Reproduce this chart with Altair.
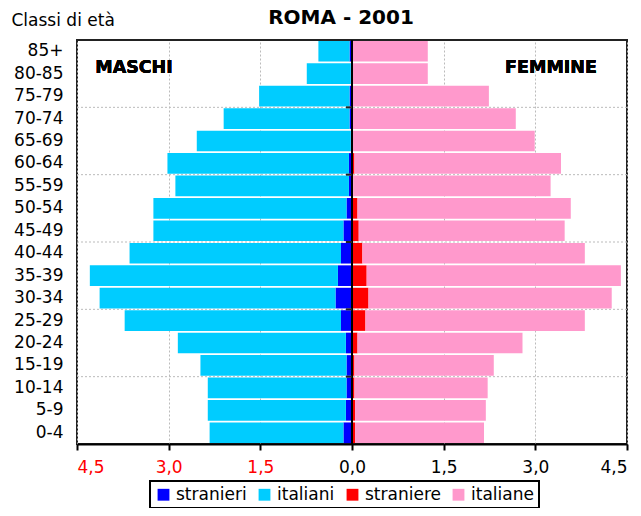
import altair as alt
import pandas as pd

ages = ["85+", "80-85", "75-79", "70-74", "65-69", "60-64", "55-59", "50-54", "45-49",
        "40-44", "35-39", "30-34", "25-29", "20-24", "15-19", "10-14", "5-9", "0-4"]

stranieri = [0.04, 0.02, 0.04, 0.04, 0.02, 0.05, 0.05, 0.09, 0.14,
             0.18, 0.23, 0.27, 0.18, 0.10, 0.09, 0.09, 0.10, 0.14]
italiani = [0.51, 0.72, 1.48, 2.06, 2.52, 2.97, 2.84, 3.16, 3.11,
            3.46, 4.06, 3.86, 3.54, 2.75, 2.39, 2.27, 2.26, 2.19]
straniere = [0.01, 0.01, 0.01, 0.01, 0.01, 0.04, 0.02, 0.09, 0.11,
             0.17, 0.24, 0.27, 0.22, 0.09, 0.04, 0.04, 0.05, 0.05]
italiane = [1.23, 1.23, 2.23, 2.67, 2.98, 3.38, 3.23, 3.49, 3.37,
            3.64, 4.16, 3.98, 3.59, 2.70, 2.28, 2.18, 2.14, 2.11]

series = ["stranieri", "italiani", "straniere", "italiane"]
colors = ["#0000FF", "#00CCFF", "#FF0000", "#FF99CC"]
tick_values = [-4.5, -3.0, -1.5, 0.0, 1.5, 3.0, 4.5]
grid_ages = ["75-79", "60-64", "45-49", "30-34", "15-19"]

rows = []
for a, s, i, f, fi in zip(ages, stranieri, italiani, straniere, italiane):
    rows.append({"age": a, "serie": "stranieri", "start": 0.0, "end": -s})
    rows.append({"age": a, "serie": "italiani", "start": -s, "end": -(s + i)})
    rows.append({"age": a, "serie": "straniere", "start": 0.0, "end": f})
    rows.append({"age": a, "serie": "italiane", "start": f, "end": f + fi})
df = pd.DataFrame(rows)
grid_df = pd.DataFrame({"age": grid_ages})

yscale = alt.Scale(domain=ages, paddingInner=0, paddingOuter=0)
xscale = alt.Scale(domain=[-4.5, 4.5], nice=False, zero=False)

y_axis = alt.Axis(title="Classi di età", titleAngle=0, titleAlign="left",
                  titleX=-66, titleY=-15, titleBaseline="alphabetic",
                  titleFontSize=17, titleFontWeight="normal", titleColor="#000000",
                  labelFontSize=17, labelColor="#000000", labelPadding=14,
                  ticks=False, domain=False, grid=False)

bars = alt.Chart(df).mark_bar(height={"band": 0.92}).encode(
    x=alt.X("start:Q", scale=xscale,
            axis=alt.Axis(values=tick_values, title=None,
                          labelExpr="replace(format(abs(datum.value), '.1f'), '.', ',')",
                          labelColor={"condition": {"test": "datum.value < 0", "value": "#FF0000"},
                                      "value": "#000000"},
                          labelFontSize=17, labelPadding=9,
                          domainColor="#000000", domainWidth=2,
                          tickColor="#000000", tickWidth=2, tickSize=6,
                          grid=True, gridColor="#bbbbbb", gridDash=[2, 2], gridWidth=1)),
    x2="end:Q",
    y=alt.Y("age:N", scale=yscale, sort=ages, axis=y_axis),
    color=alt.Color("serie:N", scale=alt.Scale(domain=series, range=colors),
                    legend=alt.Legend(title=None, orient="none", legendX=73, legendY=441,
                                      direction="horizontal", symbolType="square",
                                      symbolSize=140, symbolStrokeWidth=0,
                                      labelFontSize=17, labelColor="#000000",
                                      labelOffset=4, columnPadding=9,
                                      strokeColor="#000000", padding=5)),
)

hgrid = alt.Chart(grid_df).mark_rule(color="#bbbbbb", strokeDash=[2, 2], strokeWidth=1).encode(
    y=alt.Y("age:N", scale=yscale, sort=ages, bandPosition=1, axis=y_axis)
)

zero_line = alt.Chart(grid_df).mark_rule(color="#000000", strokeWidth=2).encode(
    x=alt.datum(0.0, scale=xscale)
)

zero_ticks = alt.Chart(grid_df).mark_rule(color="#222222", strokeWidth=2, x2Offset=-6).encode(
    x=alt.datum(0.0, scale=xscale),
    x2=alt.datum(0.0),
    y=alt.Y("age:N", scale=yscale, sort=ages, bandPosition=1, axis=y_axis),
)

maschi = alt.Chart(grid_df).mark_text(text="MASCHI", fontSize=17.5, fontWeight="bold",
                                      baseline="middle", align="center", color="#000000").encode(
    x=alt.value(57), y=alt.value(28)
)
femmine = alt.Chart(grid_df).mark_text(text="FEMMINE", fontSize=17.5, fontWeight="bold",
                                       baseline="middle", align="center", color="#000000").encode(
    x=alt.value(474), y=alt.value(28)
)

chart = alt.layer(hgrid, bars, zero_line, zero_ticks, maschi, femmine).properties(
    width=550, height=404,
    title=alt.Title("ROMA - 2001", fontSize=20, fontWeight="bold", anchor="middle",
                    frame="group", dx=-11, offset=-17, color="#000000"),
    autosize=alt.AutoSizeParams(type="none"),
    padding={"left": 69, "top": 32, "right": 6, "bottom": 64},
).configure(font="DejaVu Sans").configure_view(
    stroke="#222222", strokeWidth=2
).configure_legend(strokeWidth=2)

chart.save("out.html", embed_options={"renderer": "svg", "actions": False})
